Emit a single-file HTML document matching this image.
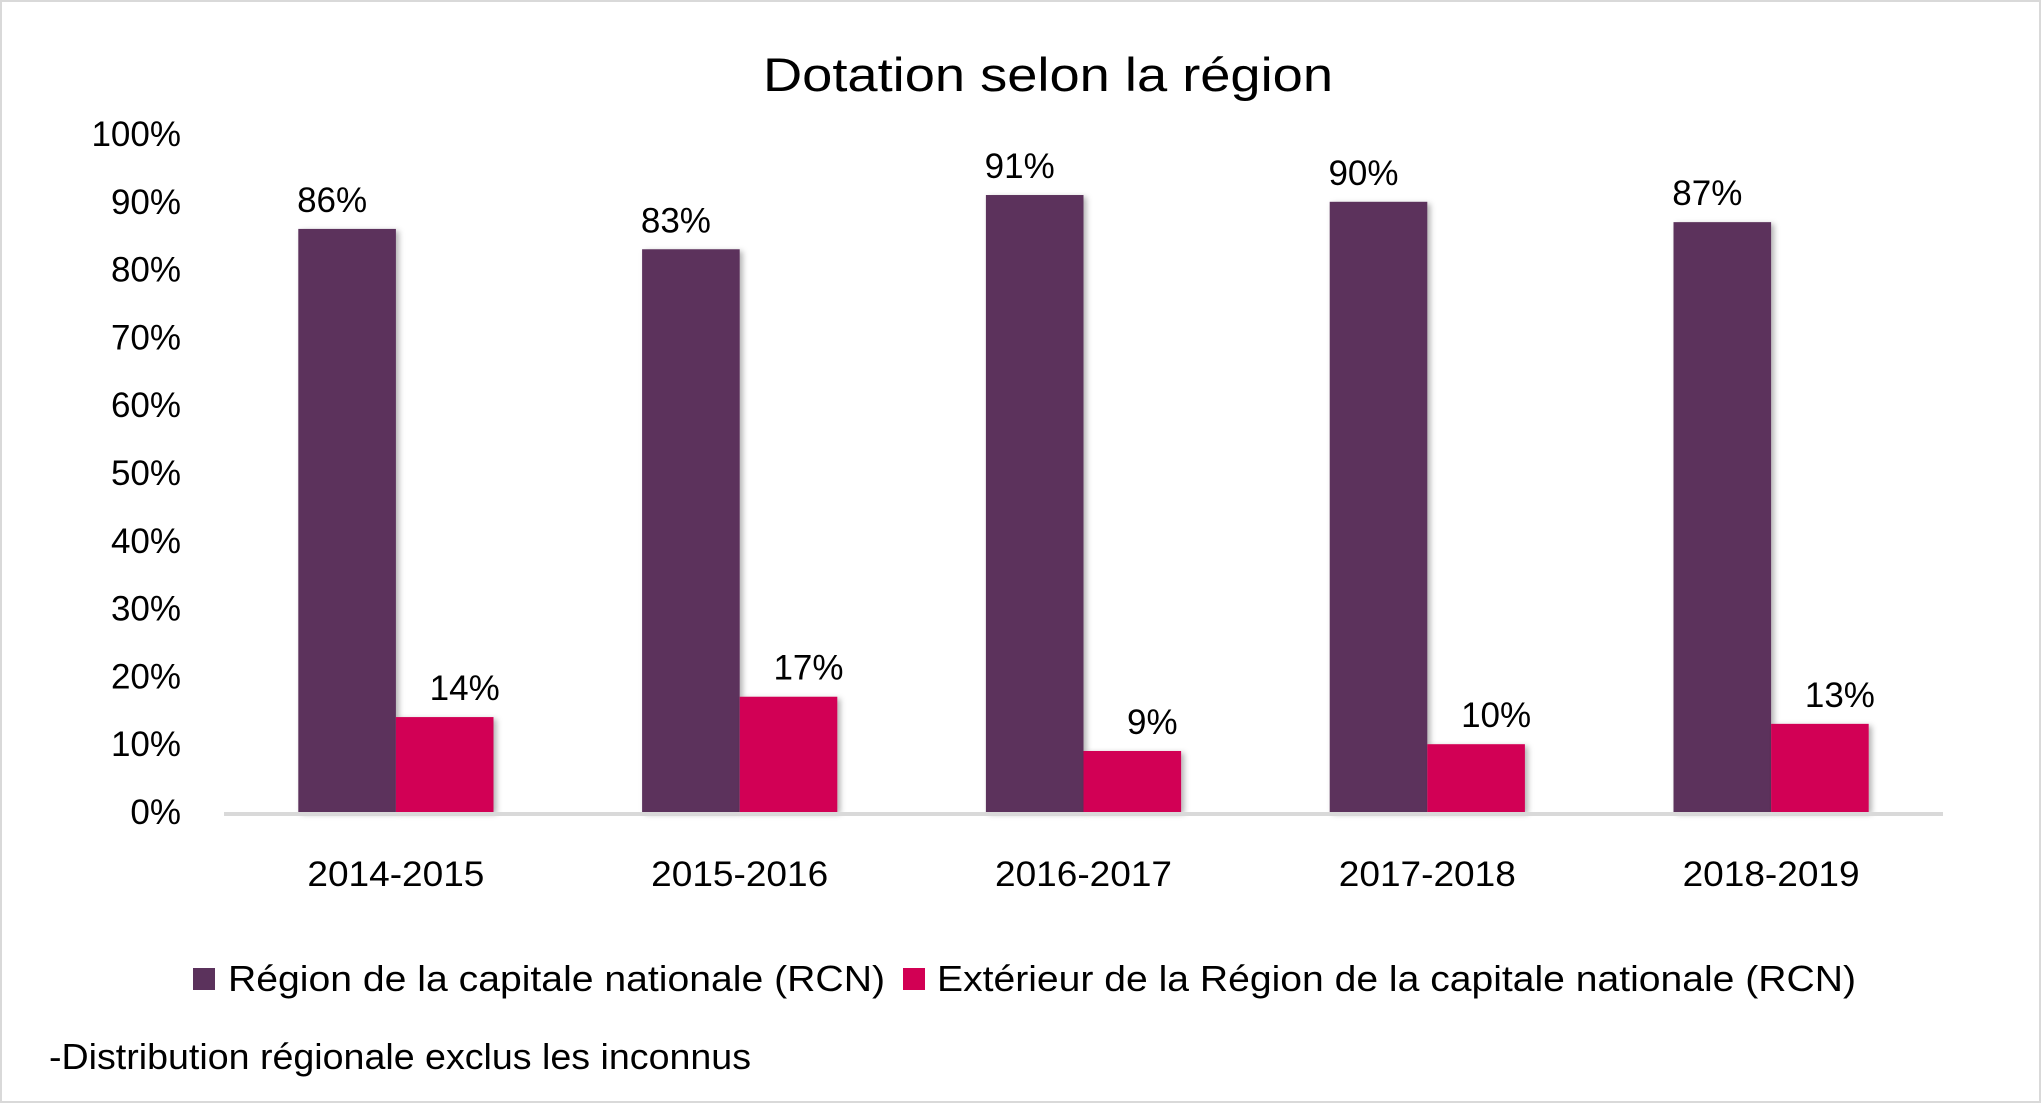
<!DOCTYPE html>
<html><head><meta charset="utf-8"><style>
html,body{margin:0;padding:0;background:#fff}
svg{display:block;font-family:"Liberation Sans",sans-serif}
</style></head><body>
<svg id="chart" width="2041" height="1103" viewBox="0 0 2041 1103" xmlns="http://www.w3.org/2000/svg">
<defs><filter id="sh" x="-20%" y="-5%" width="150%" height="120%"><feDropShadow dx="3" dy="2" stdDeviation="3" flood-color="#000" flood-opacity="0.3"/></filter></defs>
<rect x="1" y="1" width="2039" height="1101" fill="#fff" stroke="#d9d9d9" stroke-width="2"/>
<text x="1048" y="91" font-size="47" text-anchor="middle" textLength="570" lengthAdjust="spacingAndGlyphs" fill="#000">Dotation selon la région</text>
<g id="yaxis"></g><g id="bars"></g><g id="xaxis"></g>
<rect x="193" y="968" width="22" height="22" fill="#5B325C"/>
<text x="228" y="991" font-size="36" textLength="657" lengthAdjust="spacingAndGlyphs">Région de la capitale nationale (RCN)</text>
<rect x="903" y="968" width="22" height="22" fill="#D20054"/>
<text x="937" y="991" font-size="36" textLength="919" lengthAdjust="spacingAndGlyphs">Extérieur de la Région de la capitale nationale (RCN)</text>
<text x="49" y="1069" font-size="36" textLength="702" lengthAdjust="spacingAndGlyphs">-Distribution régionale exclus les inconnus</text>
</svg>
<script>
const categories = ["2014-2015","2015-2016","2016-2017","2017-2018","2018-2019"];
const rcnValues = [86,83,91,90,87];
const extValues = [14,17,9,10,13];
const yTicks = [0,10,20,30,40,50,60,70,80,90,100];

const NS="http://www.w3.org/2000/svg";
const L=224,R=1943,Y0=812,Y100=134,BW=97.6;
const y=v=>Y0-(v/100)*(Y0-Y100);
const band=(R-L)/categories.length;
const cx=i=>L+band*(i+0.5);
function mk(tag,attrs,parent,txt){const e=document.createElementNS(NS,tag);for(const k in attrs)e.setAttribute(k,attrs[k]);if(txt!==undefined)e.textContent=txt;parent.appendChild(e);return e;}
const gy=document.getElementById('yaxis'),gb=document.getElementById('bars'),gx=document.getElementById('xaxis');
yTicks.forEach(t=>{
  const e=mk('text',{x:181,y:y(t)+12,'font-size':35,'text-anchor':'end'},gy,t+'%');
  
  
});
categories.forEach((c,i)=>{
  const c0=cx(i);
  const series=[[rcnValues[i],'#5B325C',c0-BW,'rcn',-15],[extValues[i],'#D20054',c0,'exterieur',20]];
  series.forEach(([v,col,x,nm,off])=>{
    const r=mk('rect',{x:x,y:y(v),width:BW,height:Y0-y(v),fill:col,filter:'url(#sh)'},gb);
    
    
    const t=mk('text',{x:x+BW/2+off,y:y(v)-17,'font-size':35,'text-anchor':'middle'},gb,v+'%');
    
    
  });
  const xl=mk('text',{x:c0,y:886,'font-size':35,'text-anchor':'middle',textLength:177,lengthAdjust:'spacingAndGlyphs'},gx,c);
  
  
});
const ax=mk('line',{x1:L,x2:R,y1:Y0+2,y2:Y0+2,stroke:'#d9d9d9','stroke-width':4},gx);


</script>
</body></html>
